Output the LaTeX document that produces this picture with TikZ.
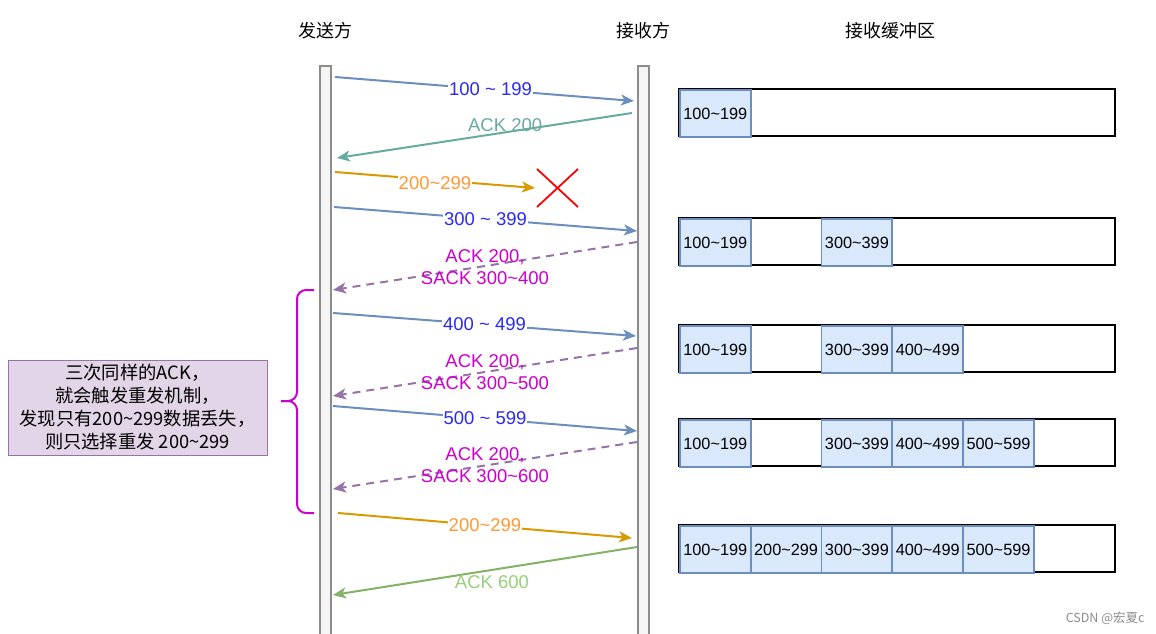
\documentclass[tikz,border=0pt]{standalone}
\usepackage{fontspec}
\setmainfont{Liberation Sans}
\newfontfamily\cjk{Noto Sans CJK SC}
\usetikzlibrary{arrows.meta,positioning}
\definecolor{lifefill}{HTML}{F5F5F5}
\definecolor{lifedraw}{HTML}{8C8C8C}
\definecolor{segblue}{HTML}{6C8EBF}
\definecolor{segfill}{HTML}{DAE8FC}
\definecolor{lblblue}{HTML}{2B2BF5}
\definecolor{ackgreen}{HTML}{67AB9F}
\definecolor{segorange}{HTML}{D79B00}
\definecolor{lblorange}{HTML}{FF9933}
\definecolor{sackline}{HTML}{9673A6}
\definecolor{sacklbl}{HTML}{CC00CC}
\definecolor{finline}{HTML}{82B366}
\definecolor{finlbl}{HTML}{97D077}
\definecolor{notefill}{HTML}{E1D5E7}
\newcommand{\tld}{\textasciitilde}
\tikzset{
  msg/.style={line width=2pt,-{Stealth[length=13pt,width=11pt,inset=3.5pt]}},
  lbl/.style={font=\fontsize{18.5}{22}\selectfont,inner sep=1pt},
  title/.style={font=\cjk\fontsize{18}{22}\selectfont},
  lifeline/.style={draw=lifedraw,fill=lifefill,line width=1.3pt},
  bufbox/.style={draw=black,line width=2pt},
  segcell/.style={draw=segblue,fill=segfill,line width=1.8pt,minimum width=70.8pt,
    minimum height=47pt,inner sep=0pt,anchor=north west,font=\fontsize{16.3}{19}\selectfont},
}
\begin{document}
\begin{tikzpicture}[x=1pt,y=-1pt]
  \useasboundingbox (0,0) rectangle (1156,634);
  % titles
  \node[title] (sendtitle) at (325,31) {发送方};
  \node[title] (recvtitle) at (643,31) {接收方};
  \node[title] (buftitle) at (890,31) {接收缓冲区};
  % lifelines
  \draw[lifeline] (320,66) rectangle (331,640);
  \draw[lifeline] (638,66) rectangle (649,640);
  % end points on the lifelines
  \coordinate (s1) at (335,77);   \coordinate (r1) at (634,101);
  \coordinate (r2) at (632,113);  \coordinate (s2) at (337,158);
  \coordinate (s3) at (335,172);  \coordinate (lost) at (535,188);
  \coordinate (s4) at (334,207);  \coordinate (r4) at (637,231);
  \coordinate (r5) at (637,242);  \coordinate (s5) at (333,290);
  \coordinate (s6) at (333,313);  \coordinate (r6) at (636,336);
  \coordinate (r7) at (637,348);  \coordinate (s7) at (333,396);
  \coordinate (s8) at (333,406);  \coordinate (r8) at (637,431);
  \coordinate (r9) at (637,442);  \coordinate (s9) at (333,489);
  \coordinate (s10) at (338,513); \coordinate (r10) at (632,538);
  \coordinate (r11) at (637,547); \coordinate (s11) at (333,595);
  % segments and acks
  \draw[msg,segblue] (s1) -- node[lbl,fill=white,text=lblblue,xshift=6pt] (m1) {100 \tld{} 199} (r1);
  \draw[msg,ackgreen] (r2) -- node[lbl,text=ackgreen,pos=0.43,yshift=7pt] (a1) {ACK 200} (s2);
  \draw[msg,segorange] (s3) -- node[lbl,fill=white,text=lblorange,yshift=-3pt] (m2) {200\tld{}299} (lost);
  \draw[red,line width=1.8pt] (537,169) -- (578,207) (578,169) -- (537,207);
  \draw[msg,segblue] (s4) -- node[lbl,fill=white,text=lblblue] (m3) {300 \tld{} 399} (r4);
  \draw[msg,sackline,dashed,dash pattern=on 8pt off 6pt] (r5) -- node[lbl,text=sacklbl,align=center,yshift=-1pt] (a2) {ACK 200,\\SACK 300\tld{}400} (s5);
  \draw[msg,segblue] (s6) -- node[lbl,fill=white,text=lblblue] (m4) {400 \tld{} 499} (r6);
  \draw[msg,sackline,dashed,dash pattern=on 8pt off 6pt] (r7) -- node[lbl,text=sacklbl,align=center] (a3) {ACK 200,\\SACK 300\tld{}500} (s7);
  \draw[msg,segblue] (s8) -- node[lbl,fill=white,text=lblblue] (m5) {500 \tld{} 599} (r8);
  \draw[msg,sackline,dashed,dash pattern=on 8pt off 6pt] (r9) -- node[lbl,text=sacklbl,align=center] (a4) {ACK 200,\\SACK 300\tld{}600} (s9);
  \draw[msg,segorange] (s10) -- node[lbl,fill=white,text=lblorange] (m6) {200\tld{}299} (r10);
  \draw[msg,finline] (r11) -- node[lbl,text=finlbl,pos=0.477,yshift=-12pt] (a5) {ACK 600} (s11);
  % brace over the three duplicate acks
  \draw[sacklbl,line width=2pt,rounded corners=9pt] (314,290) -- (297,290) -- (297,401) -- (281,401);
  \draw[sacklbl,line width=2pt,rounded corners=9pt] (314,513) -- (297,513) -- (297,401) -- (281,401);
  \node[draw=sackline,fill=notefill,minimum width=259pt,minimum height=95pt,align=center,
    font=\cjk\fontsize{18.3}{23}\selectfont] (note) at (137.5,407.5)
    {三次同样的ACK，\\就会触发重发机制，\\发现只有200\tld{}299数据丢失，\\则只选择重发 200\tld{}299};
  % receive buffer
  \foreach \row/\ytop/\cells in {1/89/{1},2/218/{1,3},3/325/{1,3,4},4/419/{1,3,4,5},5/525/{1,2,3,4,5}}{
    \draw[bufbox] (679,\ytop) rectangle ++(436,47);
    \foreach \c in \cells {
      \pgfmathtruncatemacro{\lo}{\c*100}
      \pgfmathtruncatemacro{\hi}{\c*100+99}
      \node[segcell] (cell-\row-\c) at ({679+(\c-1)*70.8},\ytop) {\lo\tld\hi};
    }
  }
  \node[font=\cjk\fontsize{12.5}{15}\selectfont,text=black!45,anchor=east] (mark) at (1148,618) {CSDN @宏夏c};
\end{tikzpicture}
\end{document}
